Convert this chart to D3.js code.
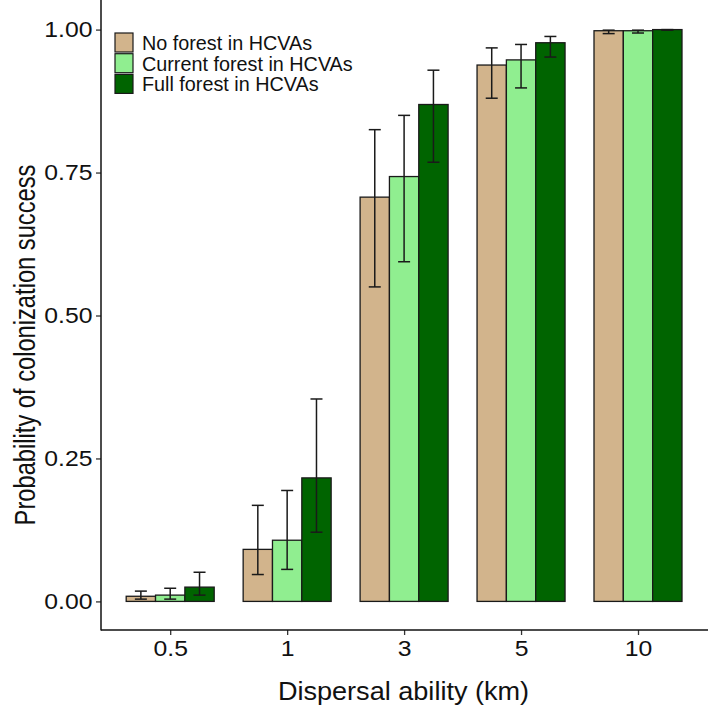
<!DOCTYPE html>
<html>
<head>
<meta charset="utf-8">
<script src="https://cdn.jsdelivr.net/npm/d3@7"></script>
<style>
  body { margin: 0; background: #fff; }
  svg { display: block; font-family: "Liberation Sans", Arial, sans-serif; }
</style>
</head>
<body>
<svg id="chart" width="709" height="712"></svg>
<script>
const categories = ["0.5", "1", "3", "5", "10"];
const seriesNames = ["No forest in HCVAs", "Current forest in HCVAs", "Full forest in HCVAs"];
const seriesColors = ["#D2B48C", "#90EE90", "#006400"];
const noForest      = [0.009, 0.091, 0.707, 0.938, 0.998];
const noForestLow   = [0.004, 0.047, 0.550, 0.880, 0.993];
const noForestHigh  = [0.018, 0.168, 0.825, 0.968, 0.999];
const current       = [0.011, 0.107, 0.743, 0.947, 0.998];
const currentLow    = [0.004, 0.056, 0.594, 0.898, 0.994];
const currentHigh   = [0.023, 0.194, 0.850, 0.974, 0.999];
const full          = [0.025, 0.216, 0.869, 0.977, 1.000];
const fullLow       = [0.011, 0.121, 0.768, 0.952, 0.999];
const fullHigh      = [0.051, 0.354, 0.929, 0.988, 1.000];
const yTicks = [0, 0.25, 0.5, 0.75, 1.0];

const values = [noForest, current, full];
const lows = [noForestLow, currentLow, fullLow];
const highs = [noForestHigh, currentHigh, fullHigh];

const svg = d3.select("#chart");
const mLeft = 101, mRight = 708, mTop = 1, mBottom = 630;

const y = d3.scaleLinear().domain([-0.05, 1.05]).range([mBottom, mTop]);
const x = d3.scalePoint().domain(categories).range([170.2, 638]);
const xs = d3.scaleBand().domain(seriesNames).range([-44, 44]).padding(0);

const data = [];
seriesNames.forEach((s, si) => {
  categories.forEach((c, ci) => {
    data.push({ cat: c, series: s, si, v: values[si][ci], lo: lows[si][ci], hi: highs[si][ci] });
  });
});

const g = svg.append("g");

// bars
g.selectAll("rect.bar").data(data).enter().append("rect")
  .attr("class", "bar")
  .attr("x", d => x(d.cat) + xs(d.series))
  .attr("width", xs.bandwidth())
  .attr("y", d => y(d.v))
  .attr("height", d => y(0) - y(d.v))
  .attr("fill", d => seriesColors[d.si])
  .attr("stroke", "#1a1a1a")
  .attr("stroke-width", 1.3);

// error bars
const capW = 12;
const cx = d => x(d.cat) + xs(d.series) + xs.bandwidth() / 2;
const eb = g.selectAll("g.eb").data(data).enter().append("g")
  .attr("class", "eb")
  .attr("stroke", "#1a1a1a")
  .attr("stroke-width", 1.5);
eb.append("line")
  .attr("x1", cx).attr("x2", cx)
  .attr("y1", d => y(d.lo)).attr("y2", d => y(d.hi));
eb.append("line")
  .attr("x1", d => cx(d) - capW / 2).attr("x2", d => cx(d) + capW / 2)
  .attr("y1", d => y(d.hi)).attr("y2", d => y(d.hi));
eb.append("line")
  .attr("x1", d => cx(d) - capW / 2).attr("x2", d => cx(d) + capW / 2)
  .attr("y1", d => y(d.lo)).attr("y2", d => y(d.lo));

// axes
const yAxis = d3.axisLeft(y).tickValues(yTicks).tickFormat(d3.format(".2f")).tickSize(5).tickPadding(3);
const yg = svg.append("g").attr("transform", `translate(${mLeft},0)`).call(yAxis);
yg.select(".domain").remove();
yg.selectAll(".tick line").attr("stroke", "#333").attr("stroke-width", 1.3);
yg.selectAll(".tick text").attr("font-size", 22.5).attr("fill", "#111")
  .attr("font-family", "Liberation Sans, Arial, sans-serif")
  .attr("x", null)
  .attr("transform", "translate(-8.5,0) scale(1.1,1)");

const xAxis = d3.axisBottom(x).tickSize(5).tickPadding(5);
const xg = svg.append("g").attr("transform", `translate(0,${mBottom})`).call(xAxis);
xg.select(".domain").remove();
xg.selectAll(".tick line").attr("stroke", "#333").attr("stroke-width", 1.3);
xg.selectAll(".tick text").attr("font-size", 22.5).attr("fill", "#111")
  .attr("font-family", "Liberation Sans, Arial, sans-serif")
  .attr("transform", "scale(1.1,1)");

svg.append("line").attr("x1", mLeft).attr("x2", mLeft).attr("y1", 0).attr("y2", mBottom + 0.5)
  .attr("stroke", "#111").attr("stroke-width", 1.5);
svg.append("line").attr("x1", mLeft).attr("x2", mRight).attr("y1", mBottom).attr("y2", mBottom)
  .attr("stroke", "#111").attr("stroke-width", 1.5);

// axis titles
svg.append("text").attr("transform", `translate(${(mLeft + mRight) / 2 - 1},700) scale(1.05,1)`)
  .attr("text-anchor", "middle").attr("font-size", 25.8).attr("fill", "#111")
  .text("Dispersal ability (km)");
svg.append("text").attr("transform", `translate(25,345) scale(1.25,1) rotate(-90)`)
  .attr("text-anchor", "middle").attr("dominant-baseline", "central").attr("font-size", 23.7).attr("fill", "#111")
  .text("Probability of colonization success");

// legend
const lg = svg.append("g").attr("transform", "translate(115,33)");
const items = lg.selectAll("g").data(seriesNames).enter().append("g")
  .attr("transform", (d, i) => `translate(0,${i * 20.7})`);
items.append("rect").attr("width", 18).attr("height", 19)
  .attr("fill", (d, i) => seriesColors[i]).attr("stroke", "#1a1a1a").attr("stroke-width", 1.2);
items.append("text").attr("x", 27).attr("y", 10).attr("dominant-baseline", "central")
  .attr("font-size", 19.8).attr("fill", "#111").text(d => d);
</script>
</body>
</html>
